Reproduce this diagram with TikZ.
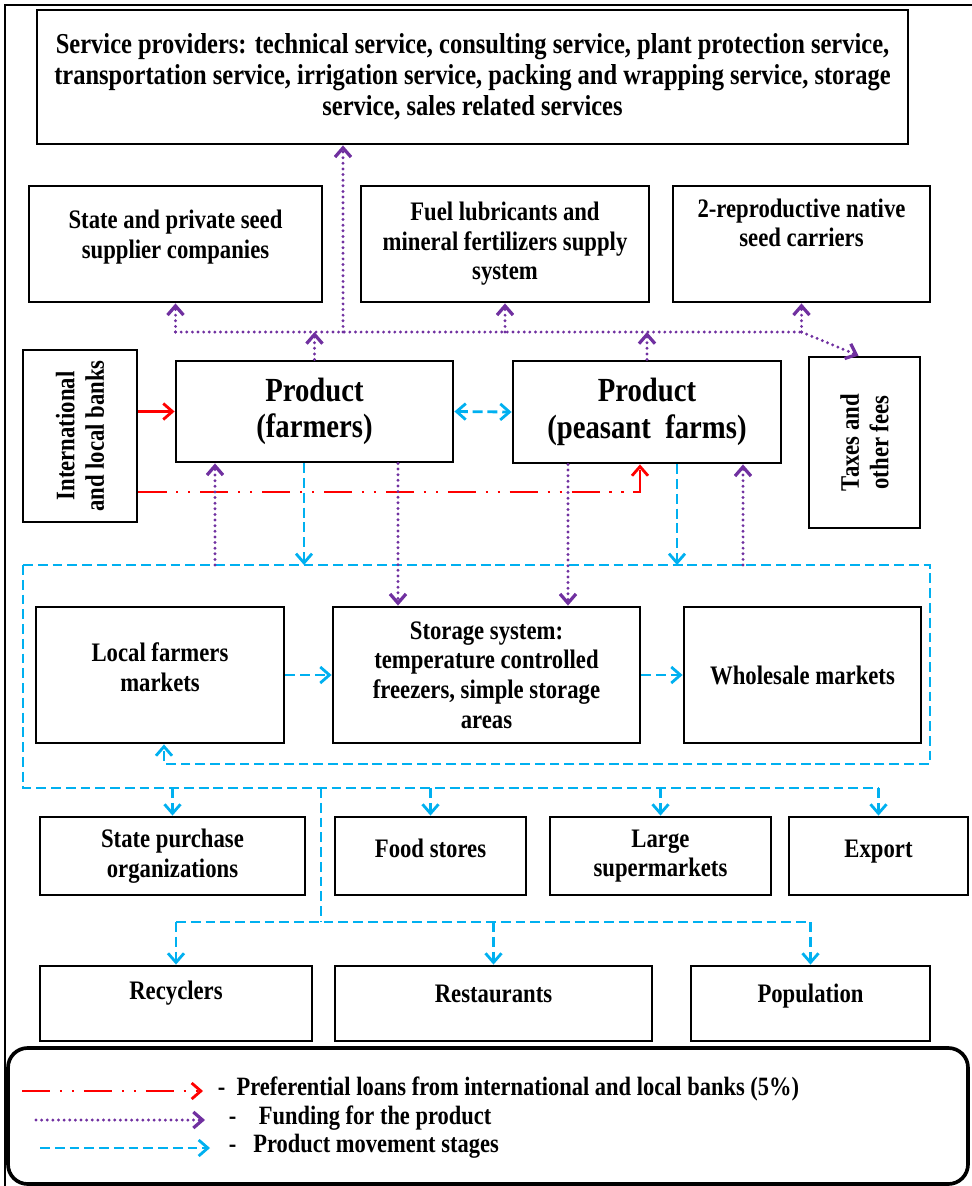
\documentclass[tikz,border=0pt]{standalone}
\usepackage{fontspec}
\setmainfont{Liberation Serif}[FakeStretch=0.85]
\usetikzlibrary{arrows.meta}
\definecolor{movblue}{RGB}{0,176,240}
\definecolor{fundpurple}{RGB}{112,48,160}
\definecolor{loanred}{RGB}{255,0,0}
\tikzset{
  box/.style={draw, line width=2pt, align=center, inner sep=3pt, font=\bfseries\fontsize{19}{21}\selectfont},
  dims/.style 2 args={minimum width=#1*0.025cm, minimum height=#2*0.025cm},
  lift/.style={text depth=#1},
  prod/.style={font=\bfseries\fontsize{24}{26}\selectfont},
  headed/.style={-{Straight Barb[length=2.3mm,width=4mm]}},
  moveline/.style={draw=movblue, line width=2pt, dash pattern=on 7pt off 3.5pt},
  move/.style={moveline, headed},
  fundline/.style={draw=fundpurple, line width=2.3pt, line cap=round, dash pattern=on 0pt off 4pt},
  fund/.style={fundline, headed},
  loanline/.style={draw=loanred, line width=2pt},
  loan/.style={loanline, dash pattern=on 20pt off 7pt on 1.5pt off 7pt on 1.5pt off 7pt, headed},
  lab/.style={anchor=west, font=\bfseries\fontsize{18.8}{20}\selectfont}
}
\begin{document}
\begin{tikzpicture}[x=0.025cm, y=-0.025cm]
\useasboundingbox (0,0) rectangle (972,1186);
\draw[line width=1.2pt] (972,5) -- (5,5) -- (5,1186);

% suppliers and services
\node[box, dims={871}{134}, font=\bfseries\fontsize{20.5}{22}\selectfont] (srv) at (472.5,77) {Service providers: technical service, consulting service, plant protection service,\\ transportation service, irrigation service, packing and wrapping service, storage\\ service, sales related services};
\node[box, dims={293}{116}, lift=14pt] (seed) at (175.5,244) {State and private seed\\ supplier companies};
\node[box, dims={288}{116}] (fuel) at (505,244) {Fuel lubricants and\\ mineral fertilizers supply\\ system};
\node[box, dims={257}{116}, lift=30pt] (repro) at (801.5,244) {2-reproductive native\\ seed carriers};

% producers
\node[box, dims={172}{114}, rotate=90] (banks) at (80,436) {International\\ and local banks};
\node[box, prod, dims={277}{101}] (farm) at (314.5,411.5) {Product\\ (farmers)};
\node[box, prod, dims={268}{102}] (peas) at (647,412) {Product\\ (peasant\ \ farms)};
\node[box, dims={171}{111}, rotate=90] (tax) at (864.5,442.5) {Taxes and\\ other fees};

% markets
\node[box, dims={248}{136}, lift=11pt] (local) at (160,675) {Local farmers\\ markets};
\node[box, dims={307}{136}] (stor) at (486.5,675) {Storage system:\\ temperature controlled\\ freezers, simple storage\\ areas};
\node[box, dims={237}{136}] (whole) at (802.5,675) {Wholesale markets};

% buyers
\node[box, dims={265}{78}] (state) at (172.5,856) {State purchase\\ organizations};
\node[box, dims={191}{78}, lift=11pt] (food) at (430.5,856) {Food stores};
\node[box, dims={221}{78}] (super) at (660.5,856) {Large\\ supermarkets};
\node[box, dims={179}{78}, lift=11pt] (export) at (878.5,856) {Export};
\node[box, dims={272}{75}, lift=19pt] (recyc) at (176,1003.5) {Recyclers};
\node[box, dims={317}{75}, lift=14pt] (rest) at (493.5,1003.5) {Restaurants};
\node[box, dims={239}{75}, lift=14pt] (popul) at (810.5,1003.5) {Population};

% funding bus
\coordinate (busy) at (0,332);
\coordinate (srvin) at (343,332);
\draw[fundline] (seed.south |- busy) -- (repro.south |- busy);
\draw[fund] (seed.south |- busy) -- (seed.south);
\draw[fund] (fuel.south |- busy) -- (fuel.south);
\draw[fund] (repro.south |- busy) -- (repro.south);
\draw[fund] (srvin) -- (srvin |- srv.south);
\draw[fund] (farm.north) -- (farm.north |- busy);
\draw[fund] (peas.north) -- (peas.north |- busy);
\draw[fund] (repro.south |- busy) -- ([xshift=-0.15cm]tax.east);

% loans
\coordinate (lnk) at (640,492);
\draw[loanline, headed] (banks.south |- farm.west) -- (farm.west);
\draw[loan] (banks.south |- lnk) -- (lnk) -- (lnk |- peas.south);
\draw[moveline, {Straight Barb[length=2.3mm,width=4mm]}-{Straight Barb[length=2.3mm,width=4mm]}] (farm.east) -- (peas.west);

% product movement frame
\coordinate (ftl) at (23,565);
\coordinate (ftr) at (930,565);
\coordinate (fbl) at (23,788);
\coordinate (ret) at (164,764);
\draw[move] (ftl) -- (ftr) -- (ftr |- ret) -- (ret) -- (ret |- local.south);
\draw[moveline] (ftl) -- (fbl) -- (export.north |- fbl);
\coordinate (c1) at (215,565);
\coordinate (c2) at (304,565);
\coordinate (c3) at (398,565);
\coordinate (c4) at (568,565);
\coordinate (c5) at (677,565);
\coordinate (c6) at (743,565);
\draw[fund] (c1) -- (c1 |- farm.south);
\draw[move] (c2 |- farm.south) -- (c2);
\draw[fund] (c3 |- farm.south) -- (c3 |- stor.north);
\draw[fund] (c4 |- peas.south) -- (c4 |- stor.north);
\draw[move] (c5 |- peas.south) -- (c5);
\draw[fund] (c6) -- (c6 |- peas.south);
\draw[move] (local.east) -- (stor.west);
\draw[move] (stor.east) -- (whole.west);

% distribution
\draw[move] (state.north |- fbl) -- (state.north);
\draw[move] (food.north |- fbl) -- (food.north);
\draw[move] (super.north |- fbl) -- (super.north);
\draw[move] (export.north |- fbl) -- (export.north);
\coordinate (trk) at (321,788);
\coordinate (trb) at (321,922);
\draw[moveline] (trk) -- (trb);
\draw[moveline] (recyc.north |- trb) -- (popul.north |- trb);
\draw[move] (recyc.north |- trb) -- (recyc.north);
\draw[move] (rest.north |- trb) -- (rest.north);
\draw[move] (popul.north |- trb) -- (popul.north);

% legend
\draw[line width=2.6pt, rounded corners=14pt] (8,1048) rectangle (968,1184);
\coordinate (l1a) at (22,1091);
\coordinate (l1b) at (203,1091);
\coordinate (l2a) at (36,1120);
\coordinate (l2b) at (205,1120);
\coordinate (l3a) at (40,1148);
\coordinate (l3b) at (210,1148);
\draw[loan] (l1a) -- (l1b);
\draw[fund] (l2a) -- (l2b);
\draw[move] (l3a) -- (l3b);
\node[lab] (t1) at (213,1089) {-\ \ Preferential loans from international and local banks (5\%)};
\node[lab] (t2) at (224,1118) {-\ \ \ \ Funding for the product};
\node[lab] (t3) at (224,1146) {-\ \ \ Product movement stages};
\end{tikzpicture}
\end{document}
